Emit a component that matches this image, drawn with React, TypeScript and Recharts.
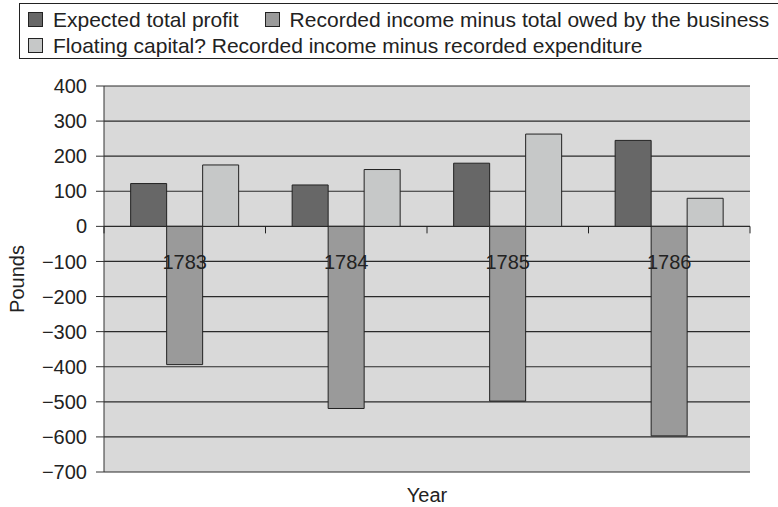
import React from "react";
import { BarChart, Bar, XAxis, YAxis, CartesianGrid } from "recharts";

const years = ["1783", "1784", "1785", "1786"];
const expectedProfit = [122, 118, 180, 245];
const incomeMinusOwed = [-394, -519, -498, -597];
const floatingCapital = [175, 162, 263, 80];
const poundTicks = [400, 300, 200, 100, 0, -100, -200, -300, -400, -500, -600, -700];

const seriesNames = [
    "Expected total profit",
    "Recorded income minus total owed by the business",
    "Floating capital? Recorded income minus recorded expenditure",
];
const seriesColors = ["#676767", "#9a9a9a", "#c6c8c8"];

const data = years.map((year, i) => ({
    year,
    profit: expectedProfit[i],
    owed: incomeMinusOwed[i],
    floating: floatingCapital[i],
}));

const W = 778;
const H = 507;
const MARGIN = { top: 86, right: 28, bottom: 0, left: 0 };
const Y_AXIS_W = 104;
const X_AXIS_H = 35;
const PLOT_W = W - MARGIN.left - MARGIN.right - Y_AXIS_W;
const PLOT_H = H - MARGIN.top - MARGIN.bottom - X_AXIS_H;
const Y_MAX = 400;
const Y_MIN = -700;
const ZERO_Y = MARGIN.top + (PLOT_H * Y_MAX) / (Y_MAX - Y_MIN);
const FONT = '"Liberation Sans", Arial, Helvetica, sans-serif';
const INK = "#222";

// category labels and tick marks sit on the zero line, Excel-style
const YearTick = (props: any) => {
    const { x, payload, index, visibleTicksCount } = props;
    const band = PLOT_W / years.length;
    const last = index === visibleTicksCount - 1;
    return (
        <g>
            <line x1={x - band / 2} x2={x - band / 2} y1={ZERO_Y} y2={ZERO_Y + 7} stroke={INK} />
            {last && <line x1={x + band / 2} x2={x + band / 2} y1={ZERO_Y} y2={ZERO_Y + 7} stroke={INK} />}
            <text x={x} y={ZERO_Y + 43} textAnchor="middle" fontSize={20} fill={INK} fontFamily={FONT}>
                {payload.value}
            </text>
        </g>
    );
};

// legend box runs past the right edge of the page
const LegendBox = () => (
    <div
        style={{
            position: "absolute",
            left: 19,
            top: 3,
            width: 800,
            height: 56,
            border: `1px solid ${INK}`,
            boxSizing: "border-box",
            fontFamily: FONT,
            fontSize: 21,
            color: INK,
            padding: "3px 0 0 8px",
            display: "flex",
            flexWrap: "wrap",
            lineHeight: "23px",
        }}
    >
        {seriesNames.map((name) => (
            <div key={name} style={{ display: "flex", alignItems: "center", marginRight: 26 }}>
                <span
                    style={{
                        display: "inline-block",
                        width: 15,
                        height: 15,
                        background: seriesColors[seriesNames.indexOf(name)],
                        border: `1px solid ${INK}`,
                        boxSizing: "border-box",
                        marginRight: 10,
                    }}
                />
                <span>{name}</span>
            </div>
        ))}
    </div>
);

export default function App() {
    return (
        <div style={{ position: "absolute", left: 0, top: 0, width: W, height: H, overflow: "hidden", background: "#fff" }}>
            <BarChart
                width={W}
                height={H}
                data={data}
                margin={MARGIN}
                barCategoryGap="16.5%"
                barGap={0}
                style={{ fontFamily: FONT }}
            >
                <CartesianGrid vertical={false} fill="#d9d9d9" stroke="#2a2a2a" strokeOpacity={1} strokeWidth={1.2} />
                <YAxis
                    width={Y_AXIS_W}
                    domain={[Y_MIN, Y_MAX]}
                    ticks={poundTicks}
                    interval={0}
                    tickSize={8}
                    tickMargin={9}
                    stroke="#333"
                    tick={{ fill: INK, fontSize: 20, fontFamily: FONT }}
                    tickFormatter={(v: number) => String(v).replace("-", "\u2212")}
                    label={{
                        value: "Pounds",
                        angle: -90,
                        position: "insideLeft",
                        offset: 17,
                        style: { textAnchor: "middle", fill: INK, fontSize: 20, fontFamily: FONT },
                    }}
                />
                <Bar dataKey="profit" name={seriesNames[0]} fill={seriesColors[0]} stroke={INK} strokeWidth={1} isAnimationActive={false} />
                <Bar dataKey="owed" name={seriesNames[1]} fill={seriesColors[1]} stroke={INK} strokeWidth={1} isAnimationActive={false} />
                <Bar dataKey="floating" name={seriesNames[2]} fill={seriesColors[2]} stroke={INK} strokeWidth={1} isAnimationActive={false} />
                <XAxis
                    dataKey="year"
                    height={X_AXIS_H}
                    axisLine={false}
                    tickLine={false}
                    interval={0}
                    tick={<YearTick />}
                    label={{
                        value: "Year",
                        position: "insideBottom",
                        offset: 5,
                        style: { fill: INK, fontSize: 20, fontFamily: FONT },
                    }}
                />
            </BarChart>
            <LegendBox />
        </div>
    );
}
